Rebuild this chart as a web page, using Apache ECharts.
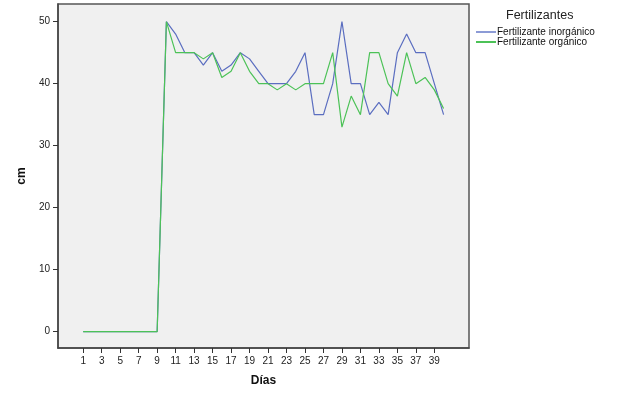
<!DOCTYPE html>
<html><head><meta charset="utf-8">
<script src="https://cdn.jsdelivr.net/npm/echarts@6/dist/echarts.min.js"></script>
<style>html,body{margin:0;padding:0;background:#fff}#c{width:626px;height:395px}</style>
</head><body><div id="c"></div>
<script>
const days = [1,2,3,4,5,6,7,8,9,10,11,12,13,14,15,16,17,18,19,20,21,22,23,24,25,26,27,28,29,30,31,32,33,34,35,36,37,38,39,40];
const inorganico = [0,0,0,0,0,0,0,0,0,50,48,45,45,43,45,42,43,45,44,42,40,40,40,42,45,35,35,40,50,40,40,35,37,35,45,48,45,45,40,35];
const organico   = [0,0,0,0,0,0,0,0,0,50,45,45,45,44,45,41,42,45,42,40,40,39,40,39,40,40,40,45,33,38,35,45,45,40,38,45,40,41,39,36];
const xTicks = [1,3,5,7,9,11,13,15,17,19,21,23,25,27,29,31,33,35,37,39];
const yTicks = [0,10,20,30,40,50];
const seriesNames = ['Fertilizante inorgánico','Fertilizante orgánico'];
const legendTitle = 'Fertilizantes';

const chart = echarts.init(document.getElementById('c'), null, {renderer:'canvas'});
const font = 'Liberation Sans, Arial, sans-serif';
chart.setOption({
  animation:false,
  backgroundColor:'#ffffff',
  title:{text:legendTitle,left:501,top:4,textStyle:{fontFamily:font,fontSize:12.5,fontWeight:'normal',color:'#222'}},
  legend:{orient:'vertical',left:471,top:22,itemWidth:20,itemHeight:2,itemGap:0,icon:'rect',
    textStyle:{fontFamily:font,fontSize:10,color:'#111',padding:[0,0,0,-4],lineHeight:9},
    data:seriesNames},
  grid:{left:58,right:157,top:4,bottom:47,show:true,backgroundColor:'#f0f0f0',borderColor:'#555',borderWidth:1.5},
  xAxis:{type:'value',min:-1.73,max:42.75,
    name:'Días',nameLocation:'middle',nameGap:27,nameTextStyle:{fontFamily:font,fontSize:12,fontWeight:'bold',color:'#111'},
    axisLine:{show:true,onZero:false,lineStyle:{color:'#444',width:1.5}},
    axisTick:{show:true,length:5,customValues:xTicks,lineStyle:{color:'#333'}},
    axisLabel:{customValues:xTicks,fontFamily:font,fontSize:10,color:'#222',margin:8},
    splitLine:{show:false}},
  yAxis:{type:'value',min:-2.63,max:52.85,
    name:'cm',nameLocation:'middle',nameGap:30,nameTextStyle:{fontFamily:font,fontSize:12,fontWeight:'bold',color:'#111'},
    axisLine:{show:true,onZero:false,lineStyle:{color:'#444',width:1.5}},
    axisTick:{show:true,length:5,customValues:yTicks,lineStyle:{color:'#333'}},
    axisLabel:{customValues:yTicks,fontFamily:font,fontSize:10,color:'#222',margin:8},
    splitLine:{show:false}},
  series:[
    {name:seriesNames[0],type:'line',data:days.map((d,i)=>[d,inorganico[i]]),showSymbol:false,
     lineStyle:{color:'#5b6ec0',width:1.2},itemStyle:{color:'#8c9bd6'},z:2},
    {name:seriesNames[1],type:'line',data:days.map((d,i)=>[d,organico[i]]),showSymbol:false,
     lineStyle:{color:'#4cc257',width:1.2},itemStyle:{color:'#4cc257'},z:3}
  ]
});
</script></body></html>
